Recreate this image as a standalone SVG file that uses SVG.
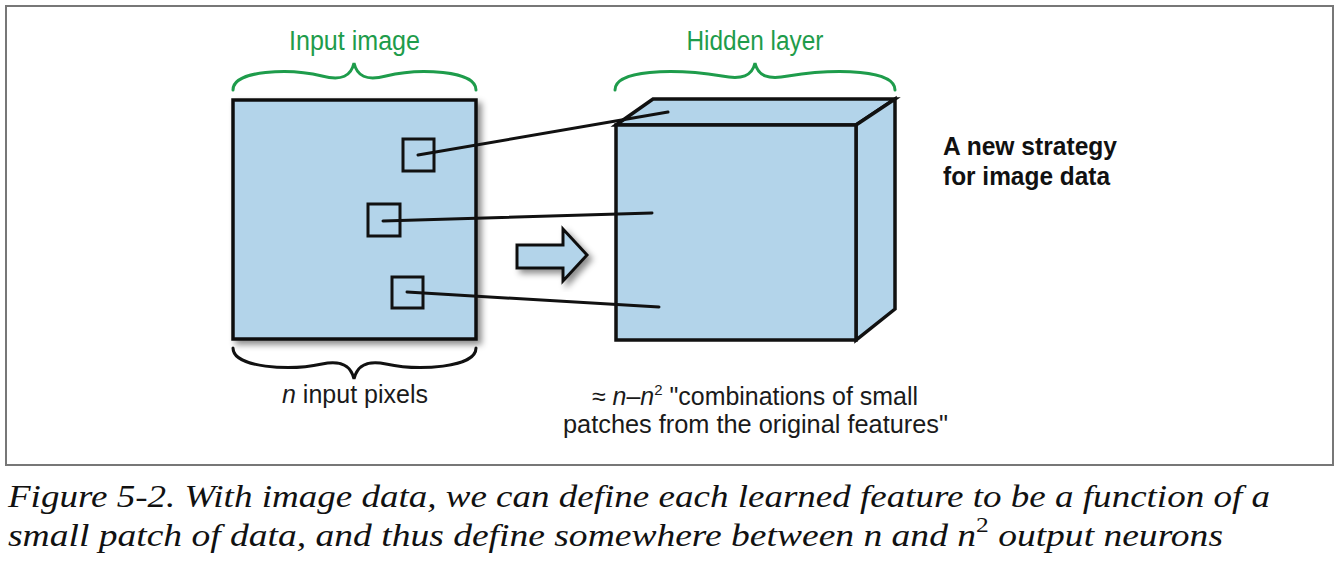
<svg xmlns="http://www.w3.org/2000/svg" width="1340" height="580" viewBox="0 0 1340 580">
<defs>
<filter id="sh" x="-20%" y="-20%" width="140%" height="140%">
<feDropShadow dx="4" dy="4" stdDeviation="3" flood-color="#000" flood-opacity="0.45"/>
</filter>
<style>
.box{fill:#b3d4ea;stroke:#111;stroke-width:3.5;stroke-linejoin:miter}
.patch{fill:none;stroke:#111;stroke-width:3}
.link{fill:none;stroke:#111;stroke-width:3;stroke-linecap:round}
.brace-g{fill:none;stroke:#1e9c4b;stroke-width:3;stroke-linecap:round}
.brace-k{fill:none;stroke:#111;stroke-width:3;stroke-linecap:round}
.lbl-g{font-family:"Liberation Sans Narrow","Liberation Sans",sans-serif;font-size:27px;fill:#1e9c4b}
.lbl{font-family:"Liberation Sans Narrow","Liberation Sans",sans-serif;font-size:25px;fill:#1a1a1a}
.lbl-b{font-family:"Liberation Sans Narrow","Liberation Sans",sans-serif;font-size:25px;font-weight:bold;fill:#111}
.cap{font-family:"Liberation Serif",serif;font-style:italic;font-size:31px;fill:#111}
</style>
</defs>
<rect x="0" y="0" width="1340" height="580" fill="#fff"/>
<rect x="6" y="6" width="1327" height="459" fill="none" stroke="#777" stroke-width="2"/>

<g id="input-image">
<path class="brace-g" d="M233,90 C233,70 290,68 322,76 C342,81 351,76 354,63 C357,76 366,81 386,76 C418,68 476,70 476,90"/>
<text class="lbl-g" x="354.5" y="50" text-anchor="middle" textLength="131" lengthAdjust="spacingAndGlyphs">Input image</text>
<rect class="box" x="233" y="100" width="243" height="239" filter="url(#sh)"/>
<rect class="patch" x="403" y="139" width="31" height="32"/>
<rect class="patch" x="368" y="204" width="32" height="32"/>
<rect class="patch" x="392" y="277" width="31" height="31"/>
<path class="brace-k" d="M233,348 C233,368 290,371 322,364 C342,360 351,366 354,379 C357,366 366,360 386,364 C418,371 476,368 476,348"/>
<text class="lbl" x="355" y="403" text-anchor="middle" textLength="146" lengthAdjust="spacingAndGlyphs"><tspan font-style="italic">n</tspan> input pixels</text>
</g>

<g id="arrow">
<path d="M517,245 L563,245 L563,229 L587,255 L563,281 L563,268 L517,268 Z" fill="#b3d4ea" stroke="#111" stroke-width="3" stroke-linejoin="miter" filter="url(#sh)"/>
</g>

<g id="hidden-layer">
<path class="brace-g" d="M615,90 C615,70 672,68 722,76 C742,80 752,76 755,63 C758,76 768,80 788,76 C838,68 895,70 895,90"/>
<text class="lbl-g" x="755" y="50" text-anchor="middle" textLength="137" lengthAdjust="spacingAndGlyphs">Hidden layer</text>
<polygon class="box" points="616,125 653,99 895,99 856,125"/>
<polygon class="box" points="856,125 895,99 895,309 856,340"/>
<rect class="box" x="616" y="125" width="240" height="215"/>
<text class="lbl" x="592" y="405" textLength="326" lengthAdjust="spacingAndGlyphs">≈ <tspan font-style="italic">n</tspan>–<tspan font-style="italic">n</tspan><tspan font-size="15" dy="-10">2</tspan><tspan dy="10"> "combinations of small</tspan></text>
<text class="lbl" x="563" y="433" textLength="385" lengthAdjust="spacingAndGlyphs">patches from the original features"</text>
</g>

<g id="note">
<text class="lbl-b" x="943" y="155" textLength="174" lengthAdjust="spacingAndGlyphs">A new strategy</text>
<text class="lbl-b" x="943" y="185" textLength="167" lengthAdjust="spacingAndGlyphs">for image data</text>
</g>

<g id="connectors">
<line class="link" x1="418" y1="155" x2="668" y2="112"/>
<line class="link" x1="383" y1="221" x2="652" y2="213"/>
<line class="link" x1="407" y1="292" x2="659" y2="307"/>
</g>

<g id="caption">
<text class="cap" x="8" y="507" textLength="1262" lengthAdjust="spacingAndGlyphs">Figure 5-2. With image data, we can define each learned feature to be a function of a</text>
<text class="cap" x="8" y="546" textLength="1215" lengthAdjust="spacingAndGlyphs">small patch of data, and thus define somewhere between n and n<tspan font-style="normal" font-size="21" dy="-14">2</tspan><tspan dy="14"> output neurons</tspan></text>
</g>
</svg>
